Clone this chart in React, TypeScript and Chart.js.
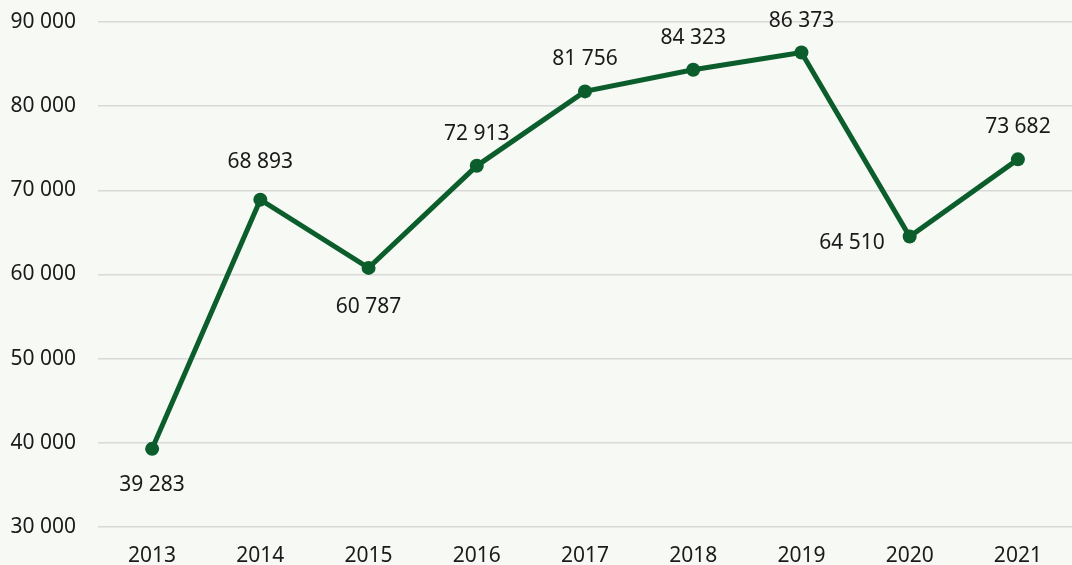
import React, { useEffect, useRef } from "react";
import { Chart, registerables } from "chart.js";

Chart.register(...registerables);

const years = ["2013", "2014", "2015", "2016", "2017", "2018", "2019", "2020", "2021"];
const values = [39283, 68893, 60787, 72913, 81756, 84323, 86373, 64510, 73682];
const labelPlacement = ["below", "above", "below", "above", "above", "above", "above", "left", "above"];
const yTicks = [30000, 40000, 50000, 60000, 70000, 80000, 90000];

// distance (px) between point and its value label
const labelGap = [35, 39, 38, 33, 33, 33, 33, 25, 33];

const FONT = "'Noto Sans', 'Open Sans', sans-serif";
const LINE = "#0b5e2c";
const BG = "#f7f9f5";
const TEXT = "#1a1a1a";

const fmt = (v: number) => {
  const s = Math.round(v).toString();
  return s.replace(/\B(?=(\d{3})+(?!\d))/g, " ");
};

export default function App() {
  const ref = useRef<HTMLCanvasElement | null>(null);

  useEffect(() => {
    document.body.style.margin = "0";
    document.body.style.overflow = "hidden";
    document.documentElement.style.overflow = "hidden";
    const canvas = ref.current;
    if (!canvas) return;

    const bgPlugin = {
      id: "bg",
      beforeDraw(chart: any) {
        const c = chart.ctx;
        c.save();
        c.fillStyle = BG;
        c.fillRect(0, 0, chart.width, chart.height);
        c.restore();
      },
    };

    const labelPlugin = {
      id: "pointLabels",
      afterDatasetsDraw(chart: any) {
        const c = chart.ctx;
        const meta = chart.getDatasetMeta(0);
        c.save();
        c.font = `21px ${FONT}`;
        c.fillStyle = TEXT;
        c.textBaseline = "middle";
        meta.data.forEach((pt: any, i: number) => {
          const txt = fmt(values[i]);
          const pos = labelPlacement[i];
          const gap = labelGap[i];
          if (pos === "above") {
            c.textAlign = "center";
            c.fillText(txt, pt.x, pt.y - gap + 1);
          } else if (pos === "below") {
            c.textAlign = "center";
            c.fillText(txt, pt.x, pt.y + gap + 1);
          } else {
            c.textAlign = "right";
            c.fillText(txt, pt.x - gap, pt.y + 6);
          }
        });
        c.restore();
      },
    };

    const chart = new Chart(canvas, {
      type: "line",
      data: {
        labels: years,
        datasets: [
          {
            data: values,
            borderColor: LINE,
            backgroundColor: LINE,
            borderWidth: 5,
            pointRadius: 7,
            pointHoverRadius: 7,
            pointBackgroundColor: LINE,
            pointBorderWidth: 0,
            tension: 0,
            clip: false as any,
          },
        ],
      },
      options: {
        responsive: false,
        animation: false,
        layout: { autoPadding: false, padding: { top: 22, left: 0, right: 0, bottom: 0 } },
        plugins: { legend: { display: false }, tooltip: { enabled: false } },
        scales: {
          x: {
            offset: true,
            afterFit: (s: any) => {
              s.height = 40;
            },
            grid: { display: false, drawTicks: false },
            border: { display: false },
            ticks: {
              font: { family: FONT, size: 21 },
              color: TEXT,
              padding: 16,
              maxRotation: 0,
            },
          },
          y: {
            min: 30000,
            max: 90000,
            afterFit: (s: any) => {
              s.width = 98;
              s.paddingTop = 0;
              s.paddingBottom = 0;
            },
            afterBuildTicks: (s: any) => {
              s.ticks = yTicks.map((v) => ({ value: v }));
            },
            grid: { color: "#d9d9d9", lineWidth: 1.5, drawTicks: false },
            border: { display: false },
            ticks: {
              font: { family: FONT, size: 21 },
              color: TEXT,
              padding: 22,
              callback: (v: any) => fmt(Number(v)),
            },
          },
        },
      },
      plugins: [bgPlugin, labelPlugin],
    });

    return () => chart.destroy();
  }, []);

  return (
    <div style={{ position: "absolute", left: 0, top: 0, width: 1072, height: 567 }}>
      <canvas ref={ref} width={1072} height={567} />
    </div>
  );
}
